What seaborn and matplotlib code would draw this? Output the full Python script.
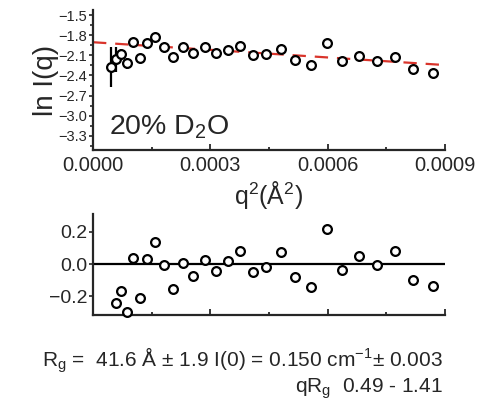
import numpy as np
import pandas as pd
import matplotlib
matplotlib.use("Agg")
import matplotlib.pyplot as plt
import seaborn as sns
from matplotlib.ticker import MultipleLocator

sns.set_style("ticks")
plt.rcParams['font.family'] = ['Liberation Sans', 'DejaVu Sans']
plt.rcParams['mathtext.fontset'] = 'custom'
plt.rcParams['mathtext.rm'] = 'Liberation Sans'
plt.rcParams['mathtext.it'] = 'Liberation Sans'

# ---- data ----
q2 = [4.60e-5, 5.88e-5, 7.08e-5, 8.62e-5, 1.030e-4, 1.202e-4, 1.388e-4, 1.585e-4,
      1.815e-4, 2.053e-4, 2.293e-4, 2.564e-4, 2.856e-4, 3.137e-4, 3.444e-4, 3.758e-4,
      4.099e-4, 4.423e-4, 4.807e-4, 5.165e-4, 5.574e-4, 5.991e-4, 6.374e-4, 6.809e-4,
      7.254e-4, 7.722e-4, 8.190e-4, 8.685e-4]
lnI = [-2.269, -2.159, -2.080, -2.218, -1.897, -2.144, -1.921, -1.823,
       -1.980, -2.129, -1.980, -2.070, -1.980, -2.070, -2.021, -1.957,
       -2.095, -2.085, -2.010, -2.169, -2.244, -1.912, -2.180, -2.110,
       -2.184, -2.120, -2.308, -2.358]
lnI_err = [0.30, 0.19, 0.08, 0.08, 0, 0, 0, 0, 0, 0, 0, 0, 0, 0,
           0, 0, 0, 0, 0, 0, 0, 0, 0, 0, 0, 0, 0, 0]
resid = [-0.242, -0.164, -0.297, 0.039, -0.207, 0.031, 0.137, -0.006, -0.156,
         0.006, -0.074, 0.025, -0.043, 0.018, 0.082, -0.047, -0.021, 0.076,
         -0.078, -0.139, 0.217, -0.037, 0.049, -0.006, 0.078, -0.098, -0.135]
fit_q2 = [0.0, 0.0009]
fit_lnI = [-1.905, -2.245]
x_ticks = [0.0, 0.0003, 0.0006, 0.0009]
x_ticklabels = ["0.0000", "0.0003", "0.0006", "0.0009"]
y_ticks = [-1.5, -1.8, -2.1, -2.4, -2.7, -3.0, -3.3]
r_ticks = [0.2, 0.0, -0.2]

df = pd.DataFrame({"q2": q2, "lnI": lnI, "err": lnI_err})
dfr = pd.DataFrame({"q2": q2[1:], "resid": resid})
dff = pd.DataFrame({"q2": fit_q2, "lnI": fit_lnI})

W, H = 483, 409
fig = plt.figure(figsize=(W / 100, H / 100), dpi=100)
ax = fig.add_axes([93 / W, 1 - 150 / H, 352 / W, 140 / H])
axr = fig.add_axes([93 / W, 1 - 315 / H, 352 / W, 101 / H])

# top: Guinier plot
sns.lineplot(data=dff, x="q2", y="lnI", ax=ax, color="#d9342b", lw=1.6, zorder=1)
ax.lines[-1].set_dashes((6, 4))
ax.errorbar(df["q2"], df["lnI"], yerr=df["err"], fmt="none", ecolor="black",
            elinewidth=1.6, capsize=0, zorder=2)
sns.scatterplot(data=df, x="q2", y="lnI", ax=ax, s=40, facecolor="white",
                edgecolor="black", linewidth=1.6, zorder=3)
ax.set_xlim(0, 0.0009)
ax.set_ylim(-3.51, -1.425)
ax.set_xticks(x_ticks)
ax.set_xticklabels(x_ticklabels, fontsize=14.5)
ax.set_yticks(y_ticks)
ax.set_yticklabels([f"{v:.1f}".replace("-", "\u2212") for v in y_ticks], fontsize=10.5)
ax.xaxis.set_minor_locator(MultipleLocator(0.00015))
ax.yaxis.set_minor_locator(MultipleLocator(0.15))
ax.tick_params(axis="x", which="both", direction="in", length=4, width=1.3, pad=4)
ax.tick_params(axis="x", which="minor", length=2.5)
ax.tick_params(axis="y", which="both", direction="out", length=3, width=1.2, pad=1)
ax.tick_params(axis="y", which="minor", length=2)
ax.set_xlabel("q$^2$(Å$^2$)", fontsize=18, labelpad=3)
ax.set_ylabel("ln I(q)", fontsize=20, labelpad=0)
ax.text(0.000040, -3.28, "20% D$_2$O", fontsize=20.5, ha="left", va="baseline")
for s in ["top", "right"]:
    ax.spines[s].set_visible(False)
for s in ["left", "bottom"]:
    ax.spines[s].set_linewidth(1.6)

# bottom: residuals
axr.axhline(0, color="black", lw=1.6, zorder=1)
sns.scatterplot(data=dfr, x="q2", y="resid", ax=axr, s=40, facecolor="white",
                edgecolor="black", linewidth=1.6, zorder=3, clip_on=False)
axr.set_xlim(0, 0.0009)
axr.set_ylim(-0.314, 0.308)
axr.set_xticks(x_ticks)
axr.set_xticklabels([])
axr.xaxis.set_minor_locator(MultipleLocator(0.00015))
axr.set_yticks(r_ticks)
axr.set_yticklabels([f"{v:.1f}".replace("-", "\u2212") for v in r_ticks], fontsize=14)
axr.tick_params(axis="x", which="both", direction="in", length=4, width=1.3)
axr.tick_params(axis="x", which="minor", length=2.5)
axr.tick_params(axis="y", direction="out", length=3, width=1.2, pad=1)
axr.set_xlabel("")
axr.set_ylabel("")
for s in ["top", "right"]:
    axr.spines[s].set_visible(False)
for s in ["left", "bottom"]:
    axr.spines[s].set_linewidth(1.6)

fig.text(443 / W, 1 - 360 / H, "R$_g$ =  41.6 Å ± 1.9 I(0) = 0.150 cm$^{-1}$± 0.003",
         ha="right", va="center", fontsize=15)
fig.text(443 / W, 1 - 389 / H, "qR$_g$  0.49 - 1.41", ha="right", va="center", fontsize=15)

fig.savefig("out.png", dpi=100)
